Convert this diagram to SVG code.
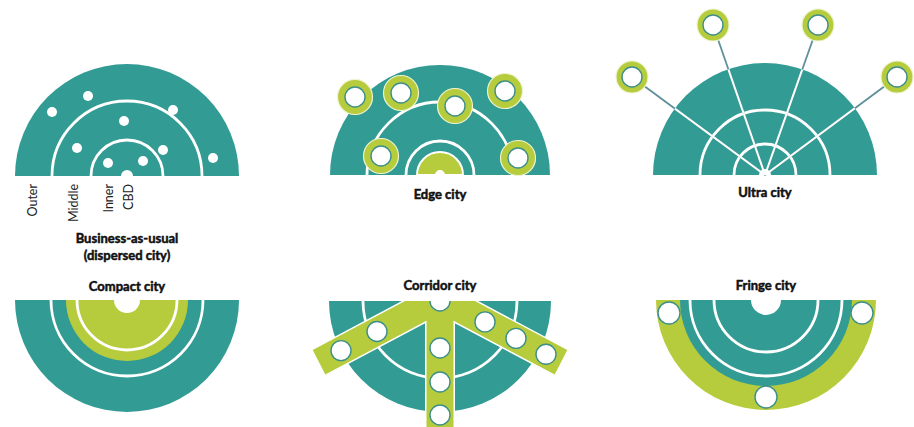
<svg xmlns="http://www.w3.org/2000/svg" width="914" height="427" viewBox="0 0 914 427">
<defs>
<style>
.teal{fill:#329b94}
.green{fill:#b6cc3d}
.ring{fill:none;stroke:#ffffff;stroke-width:2.8}
.wfill{fill:#ffffff}
.node{fill:#ffffff;stroke:#3e8f88;stroke-width:1.4}
.gnode{fill:#b6cc3d;stroke:#eef3d0;stroke-width:1.2}
.dot{fill:#ffffff}
.title{font-family:Lato,"Liberation Sans",sans-serif;font-weight:bold;font-size:13px;fill:#111111;stroke:#111111;stroke-width:0.5;text-anchor:middle}
.zone{font-family:Lato,"Liberation Sans",sans-serif;font-size:12.5px;fill:#222222;text-anchor:end}
.spoke-out{stroke:#5f8f99;stroke-width:1.8;fill:none}
.spoke-in{stroke:#ffffff;stroke-width:2;fill:none}
.gout{fill:none;stroke:#ffffff;stroke-width:3}
</style>
<clipPath id="ultraDome"><path d="M653,175 A112,112 0 0 1 877,175 Z"/></clipPath>
<clipPath id="corrClip"><rect x="290" y="301" width="300" height="130"/></clipPath>
</defs>

<g id="business-as-usual">
<path class="teal" d="M15,176 A112,112 0 0 1 239,176 Z"/>
<path class="ring" d="M52,176 A75,75 0 0 1 202,176"/>
<path class="ring" d="M91,176 A36,36 0 0 1 163,176"/>
<path class="wfill" d="M121,176 A6,6 0 0 1 133,176 Z"/>
<circle class="dot" cx="52" cy="112" r="5"/>
<circle class="dot" cx="88" cy="96" r="5"/>
<circle class="dot" cx="173" cy="110" r="5"/>
<circle class="dot" cx="124" cy="121" r="5"/>
<circle class="dot" cx="77" cy="148" r="5"/>
<circle class="dot" cx="163" cy="150" r="5"/>
<circle class="dot" cx="108" cy="163" r="5"/>
<circle class="dot" cx="143" cy="161" r="5"/>
<circle class="dot" cx="213" cy="158" r="5"/>
<text class="zone" transform="translate(37,184) rotate(-90)">Outer</text>
<text class="zone" transform="translate(78,184) rotate(-90)">Middle</text>
<text class="zone" transform="translate(113,184) rotate(-90)">Inner</text>
<text class="zone" transform="translate(133,184) rotate(-90)">CBD</text>
<text class="title" x="127" y="243">Business-as-usual</text>
<text class="title" x="127" y="260">(dispersed city)</text>
</g>

<g id="edge-city">
<path class="teal" d="M330,175 A110,110 0 0 1 550,175 Z"/>
<path class="ring" d="M367,175 A73,73 0 0 1 513,175"/>
<path class="ring" d="M406,175 A34,34 0 0 1 474,175"/>
<path class="green" d="M417,175 A23,23 0 0 1 463,175 Z" stroke="#ffffff" stroke-width="2"/>
<path class="wfill" d="M435,175 A5,5 0 0 1 445,175 Z"/>
<g id="edge-node-1"><circle class="gnode" cx="355" cy="97" r="17.5"/><circle class="node" cx="355" cy="97" r="10"/></g>
<g id="edge-node-2"><circle class="gnode" cx="401" cy="93" r="17.5"/><circle class="node" cx="401" cy="93" r="10"/></g>
<g id="edge-node-3"><circle class="gnode" cx="455" cy="106" r="17.5"/><circle class="node" cx="455" cy="106" r="10"/></g>
<g id="edge-node-4"><circle class="gnode" cx="505" cy="91" r="17.5"/><circle class="node" cx="505" cy="91" r="10"/></g>
<g id="edge-node-5"><circle class="gnode" cx="381" cy="156" r="17.5"/><circle class="node" cx="381" cy="156" r="10"/></g>
<g id="edge-node-6"><circle class="gnode" cx="518" cy="158" r="17.5"/><circle class="node" cx="518" cy="158" r="10"/></g>
<text class="title" x="440" y="199">Edge city</text>
</g>

<g id="ultra-city">
<path class="teal" d="M653,175 A112,112 0 0 1 877,175 Z"/>
<path class="ring" d="M700,175 A65,65 0 0 1 830,175"/>
<path class="ring" d="M734,175 A31,31 0 0 1 796,175"/>
<text class="title" x="765" y="197">Ultra city</text>
</g>

<g id="connectors">
<line class="spoke-out" x1="765" y1="175" x2="632" y2="77"/>
<line class="spoke-out" x1="765" y1="175" x2="713" y2="25"/>
<line class="spoke-out" x1="765" y1="175" x2="818" y2="25"/>
<line class="spoke-out" x1="765" y1="175" x2="897" y2="77"/>
<g clip-path="url(#ultraDome)">
<line class="spoke-in" x1="765" y1="175" x2="632" y2="77"/>
<line class="spoke-in" x1="765" y1="175" x2="713" y2="25"/>
<line class="spoke-in" x1="765" y1="175" x2="818" y2="25"/>
<line class="spoke-in" x1="765" y1="175" x2="897" y2="77"/>
</g>
<path class="wfill" d="M759,175 A6,6 0 0 1 771,175 Z"/>
</g>

<g id="ultra-node-1"><circle class="gnode" cx="632" cy="77" r="16"/><circle class="node" cx="632" cy="77" r="10"/></g>
<g id="ultra-node-2"><circle class="gnode" cx="713" cy="25" r="16"/><circle class="node" cx="713" cy="25" r="10"/></g>
<g id="ultra-node-3"><circle class="gnode" cx="818" cy="25" r="16"/><circle class="node" cx="818" cy="25" r="10"/></g>
<g id="ultra-node-4"><circle class="gnode" cx="897" cy="77" r="16"/><circle class="node" cx="897" cy="77" r="10"/></g>

<g id="compact-city">
<text class="title" x="127" y="291">Compact city</text>
<path class="teal" d="M15,300 A112,112 0 0 0 239,300 Z"/>
<path class="ring" d="M51,300 A76,76 0 0 0 203,300"/>
<path class="green" d="M66,300 A61,61 0 0 0 188,300 Z"/>
<path class="ring" d="M77,300 A50,50 0 0 0 177,300"/>
<path class="wfill" d="M114,300 A13,13 0 0 0 140,300 Z"/>
</g>

<g id="corridor-city">
<text class="title" x="440" y="290">Corridor city</text>
<path class="teal" d="M329,301 A111,111 0 0 0 551,301 Z"/>
<path class="ring" d="M363,301 A77,77 0 0 0 517,301"/>
<g clip-path="url(#corrClip)">
<g class="gout">
<polygon points="442.5,281.1 455.2,305.5 325.3,374.5 312.7,350.1"/>
<polygon points="437.5,281.1 424.8,305.5 554.7,374.5 567.3,350.1"/>
<rect x="426.5" y="295" width="27" height="140"/>
</g>
<g class="green">
<polygon points="442.5,281.1 455.2,305.5 325.3,374.5 312.7,350.1"/>
<polygon points="437.5,281.1 424.8,305.5 554.7,374.5 567.3,350.1"/>
<rect x="426.5" y="295" width="27" height="140"/>
</g>
</g>
<path class="wfill" d="M430,301 A10,10 0 0 0 450,301 Z"/>
<path fill="none" stroke="#3e8f88" stroke-width="1.4" d="M430,301 A10,10 0 0 0 450,301"/>
<circle class="node" cx="341" cy="350.6" r="10"/>
<circle class="node" cx="377" cy="331.5" r="10"/>
<circle class="node" cx="485" cy="321.9" r="10"/>
<circle class="node" cx="516" cy="338.4" r="10"/>
<circle class="node" cx="546" cy="354.3" r="10"/>
<circle class="node" cx="440" cy="348" r="10"/>
<circle class="node" cx="440" cy="382" r="10"/>
<circle class="node" cx="440" cy="415" r="10"/>
</g>

<g id="fringe-city">
<text class="title" x="766" y="290">Fringe city</text>
<path class="green" d="M656,300 A110,110 0 0 0 876,300 Z"/>
<path class="teal" d="M680,300 A86,86 0 0 0 852,300 Z"/>
<path class="ring" d="M690,300 A76,76 0 0 0 842,300"/>
<path class="ring" d="M714,300 A52,52 0 0 0 818,300"/>
<path class="wfill" d="M751,300 A15,15 0 0 0 781,300 Z"/>
<circle class="node" cx="669" cy="313" r="11"/>
<circle class="node" cx="862" cy="313" r="11"/>
<circle class="node" cx="766" cy="397" r="11"/>
</g>
</svg>
